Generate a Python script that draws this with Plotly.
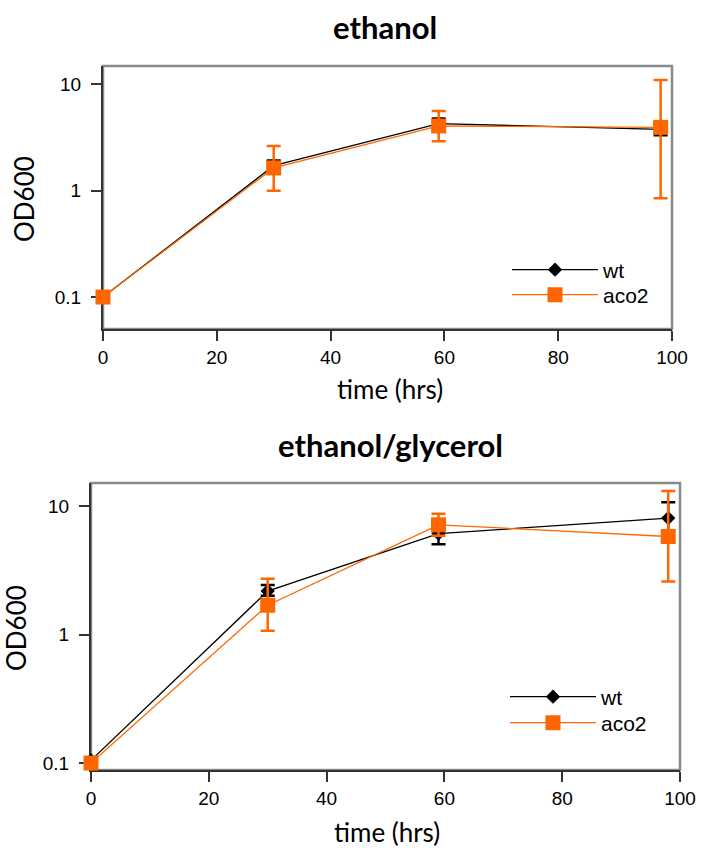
import plotly.graph_objects as go

# ---- data ----
time_hrs = [0, 30, 59, 98]

eth_wt = [0.1, 1.72, 4.28, 3.78]
eth_wt_plus = [0, 0.21, 0.5, 0.46]
eth_wt_minus = [0, 0.21, 0.5, 0.46]
eth_aco2 = [0.1, 1.64, 4.07, 3.95]
eth_aco2_plus = [0, 1.0, 1.55, 7.05]
eth_aco2_minus = [0, 0.64, 1.14, 3.1]

gly_wt = [0.105, 2.18, 6.1, 8.05]
gly_wt_plus = [0, 0.25, 1.15, 2.65]
gly_wt_minus = [0, 0.18, 1.05, 2.65]
gly_aco2 = [0.1, 1.69, 7.14, 5.79]
gly_aco2_plus = [0, 1.03, 1.56, 7.3]
gly_aco2_minus = [0, 0.62, 1.28, 3.2]

series_names = ["wt", "aco2"]
titles = ["ethanol", "ethanol/glycerol"]
ytick_vals = [0.1, 1, 10]
ytick_text = ["0.1", "1", "10"]
xtick_vals = [0, 20, 40, 60, 80, 100]

BLACK = "#000000"
ORANGE = "#FF6600"
W, H = 701, 848

fig = go.Figure()

def add_pair(xa, ya, legs, wt, wtp, wtm, ac, acp, acm):
    fig.add_trace(go.Scatter(
        x=time_hrs, y=wt, name=series_names[0], mode="lines+markers",
        xaxis=xa, yaxis=ya, legend=legs[0], cliponaxis=False, showlegend=True,
        line=dict(color=BLACK, width=1.3),
        marker=dict(symbol="diamond", size=11, color=BLACK),
        error_y=dict(type="data", symmetric=False, array=wtp, arrayminus=wtm,
                     color=BLACK, thickness=2.5, width=7),
    ))
    fig.add_trace(go.Scatter(
        x=time_hrs, y=ac, name=series_names[1], mode="lines+markers",
        xaxis=xa, yaxis=ya, legend=legs[1], cliponaxis=False, showlegend=True,
        line=dict(color=ORANGE, width=1.3),
        marker=dict(symbol="square", size=15, color=ORANGE),
        error_y=dict(type="data", symmetric=False, array=acp, arrayminus=acm,
                     color=ORANGE, thickness=2.5, width=7),
    ))

add_pair("x", "y", ["legend", "legend2"], eth_wt, eth_wt_plus, eth_wt_minus,
         eth_aco2, eth_aco2_plus, eth_aco2_minus)
add_pair("x2", "y2", ["legend3", "legend4"], gly_wt, gly_wt_plus, gly_wt_minus,
         gly_aco2, gly_aco2_plus, gly_aco2_minus)

tick_font = dict(family="Liberation Sans, Arial", size=19, color="#000")
axis_common = dict(
    showgrid=False, zeroline=False, showline=True, linecolor="#333333",
    linewidth=2, ticks="outside", ticklen=10, tickwidth=1.5, tickcolor="#333333",
    tickfont=tick_font, layer="below traces", automargin=False,
)

def dx(a, b):
    return [a / W, b / W]
def dy(top, bot):
    return [(H - bot) / H, (H - top) / H]

fig.update_layout(
    xaxis=dict(domain=dx(103, 672), range=[0, 100], tickvals=xtick_vals,
               anchor="y", **axis_common),
    yaxis=dict(domain=dy(66, 329), type="log", range=[-1.301, 1.174],
               tickvals=ytick_vals, ticktext=ytick_text, anchor="x",
               ticklabelstandoff=6, **axis_common),
    xaxis2=dict(domain=dx(91, 680), range=[0, 100], tickvals=xtick_vals,
                anchor="y2", **axis_common),
    yaxis2=dict(domain=dy(483, 770), type="log", range=[-1.054, 1.179],
                tickvals=ytick_vals, ticktext=ytick_text, anchor="x2",
                ticklabelstandoff=6, **axis_common),
)

for xr, yr in [("x", "y"), ("x2", "y2")]:
    fig.add_shape(type="rect", xref=xr + " domain", yref=yr + " domain",
                  x0=0, x1=1, y0=0, y1=1, layer="below",
                  line=dict(color="#8a8a8a", width=2.5))

leg_common = dict(
    font=dict(family="Liberation Sans, Arial", size=21, color="#000"),
    bgcolor="rgba(0,0,0,0)", borderwidth=0, itemwidth=86,
    xanchor="left", yanchor="middle", tracegroupgap=0, visible=True,
)
fig.update_layout(
    showlegend=True,
    legend=dict(x=507 / W, y=1 - 270 / H, **leg_common),
    legend2=dict(x=507 / W, y=1 - 295 / H, **leg_common),
    legend3=dict(x=505 / W, y=1 - 697 / H, **leg_common),
    legend4=dict(x=505 / W, y=1 - 723 / H, **leg_common),
)

title_font = dict(family="Lato", size=31, color="#000", weight="bold")
label_font = dict(family="Lato", size=26, color="#000")
ann = [
    dict(text="<b>" + titles[0] + "</b>", x=385 / W, y=1 - 27 / H, font=title_font),
    dict(text="<b>" + titles[1] + "</b>", x=390 / W, y=1 - 445 / H, font=title_font),
    dict(text="time (hrs)", x=390 / W, y=1 - 389 / H, font=label_font),
    dict(text="time (hrs)", x=387 / W, y=1 - 832 / H, font=label_font),
    dict(text="OD600", x=24 / W, y=1 - 199 / H, font=label_font, textangle=-90),
    dict(text="OD600", x=16 / W, y=1 - 628 / H, font=label_font, textangle=-90),
]
for a in ann:
    fig.add_annotation(xref="paper", yref="paper", showarrow=False,
                       xanchor="center", yanchor="middle", **a)

fig.update_layout(
    width=W, height=H, margin=dict(l=0, r=0, t=0, b=0, autoexpand=False),
    paper_bgcolor="white", plot_bgcolor="white",
)

fig.write_html("out.html")
